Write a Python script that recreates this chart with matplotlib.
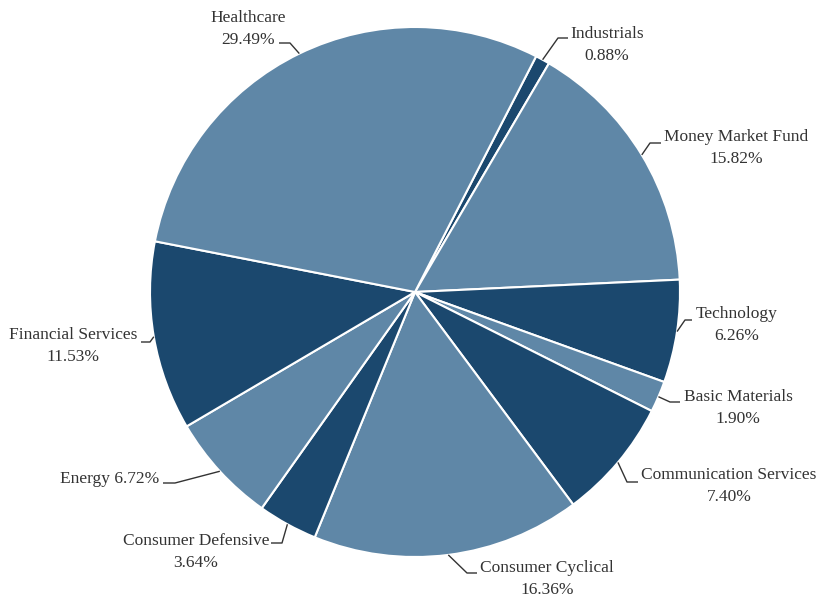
import matplotlib
matplotlib.use("Agg")
import matplotlib.pyplot as plt
import numpy as np

# ---- data ----
sectors = ["Industrials", "Money Market Fund", "Technology", "Basic Materials",
           "Communication Services", "Consumer Cyclical", "Consumer Defensive",
           "Energy", "Financial Services", "Healthcare"]
weights = [0.88, 15.82, 6.26, 1.90, 7.40, 16.36, 3.64, 6.72, 11.53, 29.49]

# ---- styling / layout ----
W, H = 820, 601
LIGHT = "#5f87a7"
DARK = "#1b486e"
colors = [DARK, LIGHT] * 5
TXT = "#333333"

def P(x, y):
    return (x, H - y)

# label layout in pixel coords: text centre, elbow, end of horizontal stub
layout = {
    "Industrials":            dict(text=(607, 45),   elbow=(558, 38),  stub=(568, 38),  one_line=False),
    "Money Market Fund":      dict(text=(736, 148.5), elbow=(650, 143), stub=(661, 143), one_line=False),
    "Technology":             dict(text=(737, 325),  elbow=(685, 320),  stub=(692, 320), one_line=False),
    "Basic Materials":        dict(text=(738, 408),  elbow=(670, 402),  stub=(680, 402), one_line=False),
    "Communication Services": dict(text=(729, 486),  elbow=(627, 482),  stub=(638, 482), one_line=False),
    "Consumer Cyclical":      dict(text=(547, 579.5), elbow=(467, 573), stub=(477, 573), one_line=False),
    "Consumer Defensive":     dict(text=(196, 552),  elbow=(282, 543),  stub=(271, 543), one_line=False),
    "Energy":                 dict(text=(110, 479),  elbow=(175, 483),  stub=(163, 483), one_line=True),
    "Financial Services":     dict(text=(73, 346),   elbow=(150, 342),  stub=(141, 342), one_line=False),
    "Healthcare":             dict(text=(248, 29.5), elbow=(290, 43),   stub=(279, 43),  one_line=False),
}

fig = plt.figure(figsize=(W / 100, H / 100), dpi=100)
ax = fig.add_axes([0, 0, 1, 1])

center = P(415, 292)
R = 265
wedges, _ = ax.pie(weights, colors=colors, startangle=62.8, counterclock=False,
                   center=center, radius=R, frame=True,
                   wedgeprops=dict(edgecolor="white", linewidth=1.5))
ax.set_xlim(0, W)
ax.set_ylim(0, H)
ax.set_aspect("equal")
ax.axis("off")

for w, name, val in zip(wedges, sectors, weights):
    lay = layout[name]
    mid = np.deg2rad((w.theta1 + w.theta2) / 2)
    ex = center[0] + R * np.cos(mid)
    ey = center[1] + R * np.sin(mid)
    el = P(*lay["elbow"])
    st = P(*lay["stub"])
    ax.plot([ex, el[0], st[0]], [ey, el[1], st[1]], color=TXT, lw=1.0,
            solid_capstyle="butt", zorder=5)
    if lay["one_line"]:
        label = f"{name} {val:.2f}%"
    else:
        label = f"{name}\n{val:.2f}%"
    tx, ty = P(*lay["text"])
    ax.text(tx, ty, label, ha="center", va="center", multialignment="center",
            fontsize=12.5, family="Liberation Serif", color=TXT, linespacing=1.5)

fig.savefig("out.png", dpi=100)
